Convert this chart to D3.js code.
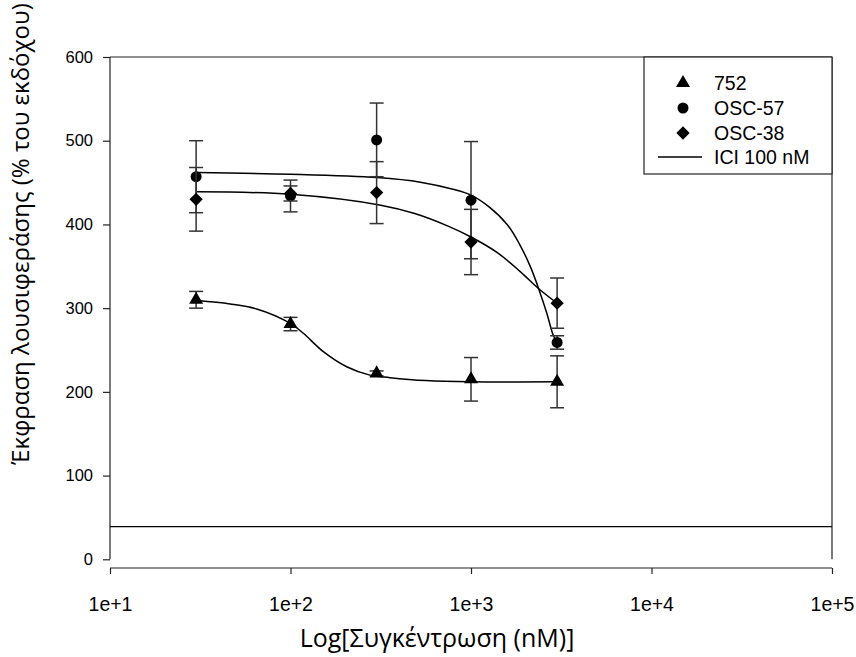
<!DOCTYPE html>
<html><head><meta charset="utf-8">
<script src="https://cdn.jsdelivr.net/npm/d3@7/dist/d3.min.js"></script>
<style>body{margin:0;background:#fff}svg{display:block}</style>
</head><body><svg id="c" width="856" height="657"></svg>
<script>
// ---- data ----
const concentrations = [30, 100, 300, 1000, 3000];
const values752 = [310, 281, 222, 215, 212];
const errors752 = [10, 8, 3, 26, 31];
const valuesOSC57 = [457, 434, 501, 429, 259];
const errorsOSC57 = [43, 19, 44, 70, 8];
const valuesOSC38 = [430, 437, 438, 379, 306];
const errorsOSC38 = [38, 9, 37, 39, 30];
const iciValue = 39;
// fitted curves: [log10(conc), value]
const curve752 = [[1.48,309],[1.665,305],[1.813,299],[1.997,282],[2.071,270],[2.182,248],[2.311,230],[2.44,220],[2.551,217],[2.75,213.5],[2.998,212],[3.475,212]];
const curveOSC57 = [[1.48,462],[2.0,460],[2.48,456],[2.72,450.5],[2.9,442],[3.0,435],[3.1,421],[3.2,400],[3.27,376],[3.33,349],[3.38,320],[3.42,294],[3.455,268],[3.477,259]];
const curveOSC38 = [[1.48,439],[2.0,436],[2.50,423],[2.688,413],[2.873,398],[3.0,385],[3.148,366],[3.271,344],[3.382,322],[3.477,306]];
const xTicks = [1e1, 1e2, 1e3, 1e4, 1e5];
const xTickLabels = ["1e+1", "1e+2", "1e+3", "1e+4", "1e+5"];
const yTicks = [0, 100, 200, 300, 400, 500, 600];
const legendLabels = ["752", "OSC-57", "OSC-38", "ICI 100 nM"];

const svg = d3.select("#c");
const x = d3.scaleLog().domain([10, 1e5]).range([110, 832]);
const y = d3.scaleLinear().domain([0, 600]).range([559.3, 57]);
const axisColor = "#222";
const tickFont = "'Liberation Sans', Arial, sans-serif";

// frame (top + right)
svg.append("line").attr("x1", x(10)).attr("x2", x(1e5)).attr("y1", y(600)).attr("y2", y(600)).attr("stroke", axisColor).attr("stroke-width", 1.2);
svg.append("line").attr("x1", x(1e5)).attr("x2", x(1e5)).attr("y1", y(600)).attr("y2", y(0)).attr("stroke", axisColor).attr("stroke-width", 1.2);

// y axis
const yAxis = d3.axisLeft(y).tickValues(yTicks).tickSize(7).tickPadding(10).tickFormat(d3.format("d"));
const gy = svg.append("g").attr("transform", "translate(110,0)").call(yAxis);
gy.select(".domain").attr("d", `M0,${y(600)}V${y(0)}`);
gy.selectAll("text").style("font-family", tickFont).style("font-size", "16.5px").attr("fill", "#000");
// x axis (offset below)
const xAxis = d3.axisBottom(x).tickValues(xTicks).tickSize(6).tickPadding(23).tickFormat((d, i) => xTickLabels[i]);
const gx = svg.append("g").attr("transform", "translate(0,568)").call(xAxis);
gx.select(".domain").attr("d", `M${x(10)},0H${x(1e5)}`);
gx.selectAll("text").style("font-family", tickFont).style("font-size", "19.5px").attr("fill", "#000");
[gx, gy].forEach(g => g.selectAll("path,line").attr("stroke", axisColor).attr("stroke-width", 1.2));

// ICI line
svg.append("line").attr("x1", x(10)).attr("x2", x(1e5)).attr("y1", y(iciValue)).attr("y2", y(iciValue)).attr("stroke", "#000").attr("stroke-width", 1.3);

// curves
const line = d3.line().x(d => x(Math.pow(10, d[0]))).y(d => y(d[1])).curve(d3.curveCatmullRom.alpha(0.5));
[curve752, curveOSC57, curveOSC38].forEach(c => {
  svg.append("path").attr("d", line(c)).attr("fill", "none").attr("stroke", "#000").attr("stroke-width", 1.5);
});

// symbols
const tri = d3.symbol().type(d3.symbolTriangle).size(85)();
const circ = d3.symbol().type(d3.symbolCircle).size(95)();
const diam = d3.symbol().type(d3.symbolSquare).size(88)();
const series = [
  {vals: values752, errs: errors752, sym: tri, rot: 0},
  {vals: valuesOSC57, errs: errorsOSC57, sym: circ, rot: 0},
  {vals: valuesOSC38, errs: errorsOSC38, sym: diam, rot: 45}
];
series.forEach(s => {
  const g = svg.append("g");
  concentrations.forEach((c, i) => {
    const cx = x(c), v = s.vals[i], e = s.errs[i];
    g.append("line").attr("x1", cx).attr("x2", cx).attr("y1", y(v + e)).attr("y2", y(v - e)).attr("stroke", "#333").attr("stroke-width", 1.5);
    [v + e, v - e].forEach(t => g.append("line").attr("x1", cx - 7).attr("x2", cx + 7).attr("y1", y(t)).attr("y2", y(t)).attr("stroke", "#333").attr("stroke-width", 1.5));
  });
  concentrations.forEach((c, i) => {
    g.append("path").attr("d", s.sym).attr("fill", "#000")
      .attr("transform", `translate(${x(c)},${y(s.vals[i])}) rotate(${s.rot})`);
  });
});

// legend
const lg = svg.append("g");
lg.append("rect").attr("x", 644).attr("y", y(600)).attr("width", x(1e5) - 644).attr("height", 117)
  .attr("fill", "#fff").attr("stroke", axisColor).attr("stroke-width", 1.2);
const rowY = [83, 108, 133, 157];
const legSyms = [[tri, 0], [circ, 0], [diam, 45]];
legendLabels.forEach((lab, i) => {
  if (i < 3) {
    lg.append("path").attr("d", legSyms[i][0]).attr("fill", "#000").attr("transform", `translate(683,${rowY[i]}) rotate(${legSyms[i][1]})`);
  } else {
    lg.append("line").attr("x1", 658).attr("x2", 702).attr("y1", rowY[i]).attr("y2", rowY[i]).attr("stroke", "#000").attr("stroke-width", 1.3);
  }
  lg.append("text").attr("x", 714).attr("y", rowY[i]).attr("dy", "0.36em").text(lab)
    .style("font-family", tickFont).style("font-size", "19.5px").attr("fill", "#000");
});

// titles
svg.append("text").attr("x", 437).attr("y", 638).attr("text-anchor", "middle").attr("dy", "0.35em")
  .style("font-family", "'Open Sans', 'Noto Sans', sans-serif").style("font-size", "25px").text("Log[Συγκέντρωση (nM)]");
svg.append("text").attr("transform", "translate(21,234) rotate(-90)").attr("text-anchor", "middle").attr("dy", "0.35em")
  .style("font-family", "'Open Sans', 'Noto Sans', sans-serif").style("font-size", "24px").text("Έκφραση λουσιφεράσης (% του εκδόχου)");
</script></body></html>
